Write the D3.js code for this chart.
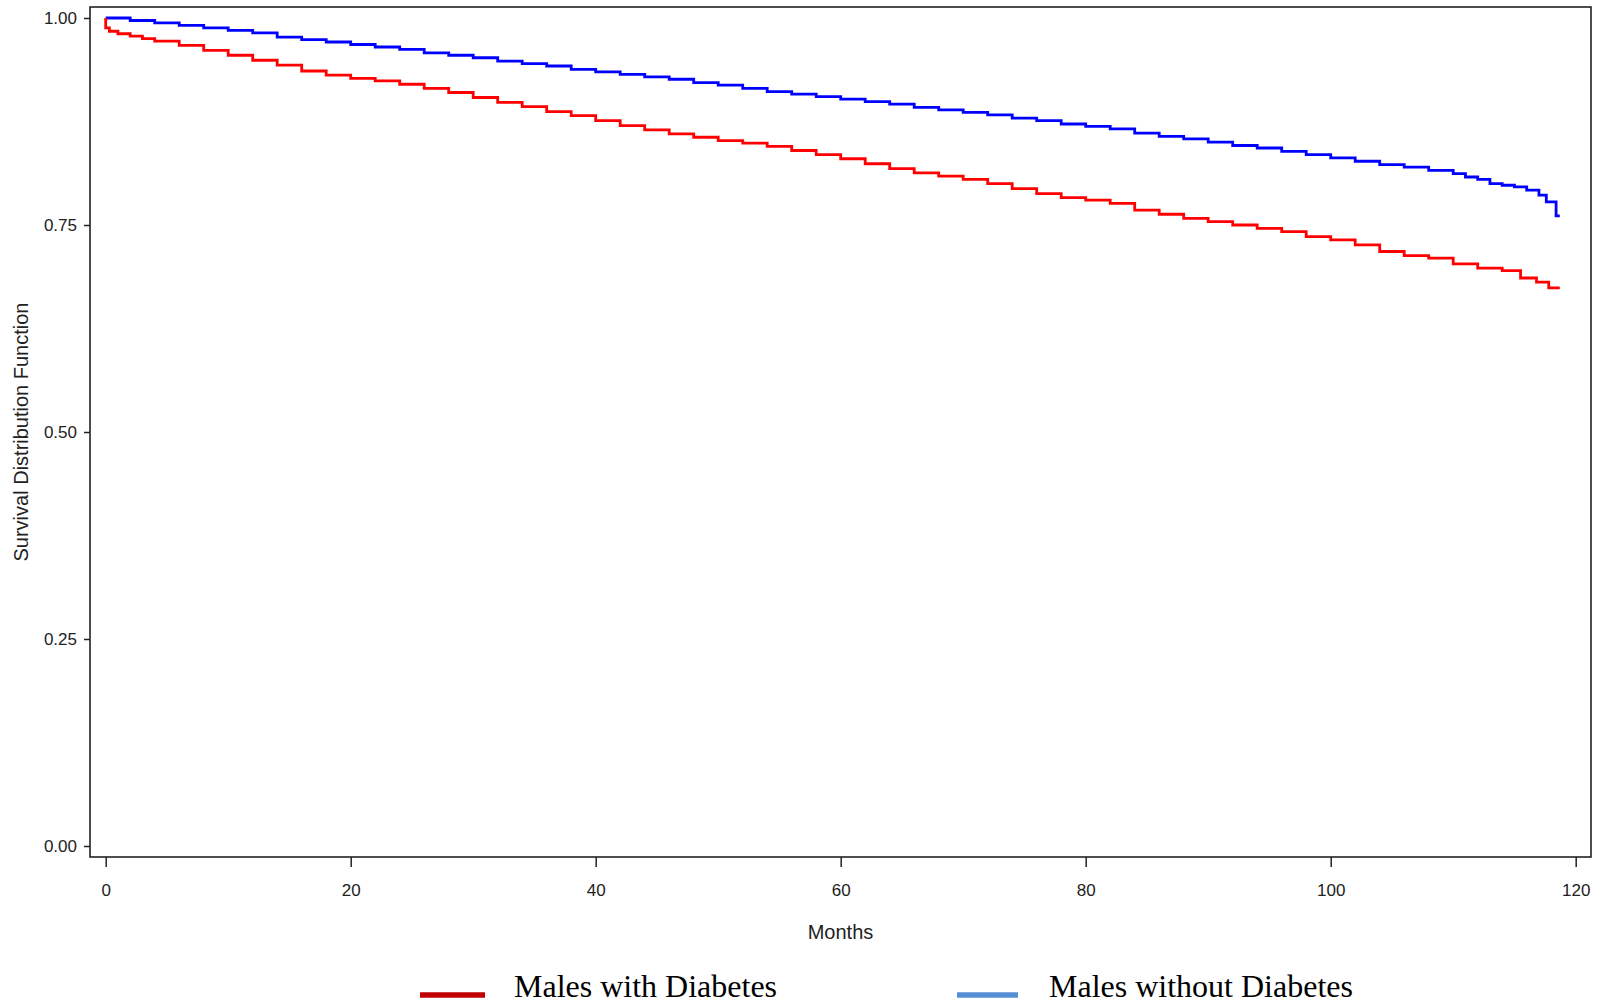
<!DOCTYPE html>
<html>
<head>
<meta charset="utf-8">
<script src="https://cdn.jsdelivr.net/npm/d3@7"></script>
<style>
  body { margin: 0; background: #fff; }
  svg { display: block; }
  .tick text { font-family: "Liberation Sans", Arial, sans-serif; font-size: 17px; fill: #222; }
  .tick line { stroke: #222; stroke-width: 1.5; }
  .axis-title { font-family: "Liberation Sans", Arial, sans-serif; font-size: 20px; fill: #222; }
  .legend-text { font-family: "Liberation Serif", "Times New Roman", serif; font-size: 32px; fill: #000; }
</style>
</head>
<body>
<svg id="chart" width="1599" height="1007"></svg>
<script>
// Kaplan-Meier estimates: [month, survival]
let withDiabetes = [
  [0, 1.000], [0, 0.988], [0.3, 0.984], [1, 0.981], [2, 0.978], [3, 0.975], [4, 0.972],
  [6, 0.967], [8, 0.961], [10, 0.955], [12, 0.949], [14, 0.943], [16, 0.936], [18, 0.931],
  [20, 0.927], [22, 0.924], [24, 0.920], [26, 0.915], [28, 0.910], [30, 0.904], [32, 0.898],
  [34, 0.893], [36, 0.887], [38, 0.882], [40, 0.876], [42, 0.870], [44, 0.865], [46, 0.860],
  [48, 0.856], [50, 0.852], [52, 0.849], [54, 0.845], [56, 0.840], [58, 0.835], [60, 0.830],
  [62, 0.824], [64, 0.818], [66, 0.813], [68, 0.809], [70, 0.805], [72, 0.800], [74, 0.794],
  [76, 0.788], [78, 0.783], [80, 0.780], [82, 0.776], [84, 0.768], [86, 0.763], [88, 0.758],
  [90, 0.754], [92, 0.750], [94, 0.746], [96, 0.742], [98, 0.736], [100, 0.732], [102, 0.726],
  [104, 0.718], [106, 0.713], [108, 0.710], [110, 0.703], [112, 0.698], [114, 0.695],
  [115.5, 0.686], [116.8, 0.681], [117.8, 0.674], [118.7, 0.674]
]

let withoutDiabetes = [
  [0, 1.000], [2, 0.997], [4, 0.994], [6, 0.991], [8, 0.988], [10, 0.985], [12, 0.982],
  [14, 0.977], [16, 0.974], [18, 0.971], [20, 0.968], [22, 0.965], [24, 0.962], [26, 0.958],
  [28, 0.955], [30, 0.952], [32, 0.948], [34, 0.945], [36, 0.942], [38, 0.938], [40, 0.935],
  [42, 0.932], [44, 0.929], [46, 0.926], [48, 0.922], [50, 0.919], [52, 0.915], [54, 0.911],
  [56, 0.908], [58, 0.905], [60, 0.902], [62, 0.899], [64, 0.896], [66, 0.892], [68, 0.889],
  [70, 0.886], [72, 0.883], [74, 0.879], [76, 0.876], [78, 0.872], [80, 0.869], [82, 0.866],
  [84, 0.861], [86, 0.857], [88, 0.854], [90, 0.850], [92, 0.846], [94, 0.843], [96, 0.839],
  [98, 0.835], [100, 0.831], [102, 0.827], [104, 0.823], [106, 0.820], [108, 0.816],
  [110, 0.812], [111, 0.808], [112, 0.805], [113, 0.800], [114, 0.798], [115, 0.796],
  [116, 0.792], [117, 0.786], [117.6, 0.778], [118.4, 0.761], [118.7, 0.761]
]

let xTicks = [0, 20, 40, 60, 80, 100, 120]
let yTicks = [0, 0.25, 0.5, 0.75, 1]

let legendItems = [
  {label: 'Males with Diabetes', color: '#c00000'},
  {label: 'Males without Diabetes', color: '#558ed5'}
]

let svg = d3.select('#chart')

// plot frame
let frame = {left: 90, top: 7, right: 1591, bottom: 857}

let x = d3.scaleLinear()
  .domain([0, 120])
  .range([105.7, 1575.7])

let y = d3.scaleLinear()
  .domain([0, 1])
  .range([846, 18])

svg.append('rect')
  .attr('width', 1599)
  .attr('height', 1007)
  .attr('fill', '#fff')

svg.append('g')
  .attr('transform', `translate(${frame.left},0)`)
  .call(d3.axisLeft(y).tickValues(yTicks).tickFormat(d3.format('.2f')).tickSize(6).tickPadding(7))
  .call(g => g.select('.domain').remove())
  .selectAll('text').attr('dy', '0.35em')

svg.append('g')
  .attr('transform', `translate(0,${frame.bottom})`)
  .call(d3.axisBottom(x).tickValues(xTicks).tickSize(10).tickPadding(17))
  .call(g => g.select('.domain').remove())

svg.append('rect')
  .attr('x', frame.left)
  .attr('y', frame.top)
  .attr('width', frame.right - frame.left)
  .attr('height', frame.bottom - frame.top)
  .attr('fill', 'none')
  .attr('stroke', '#222')
  .attr('stroke-width', 1.6)

let line = d3.line()
  .x(d => x(d[0]))
  .y(d => y(d[1]))
  .curve(d3.curveStepAfter)

svg.append('path')
  .datum(withoutDiabetes)
  .attr('d', line)
  .attr('fill', 'none')
  .attr('stroke', '#0000ff')
  .attr('stroke-width', 2.8)

svg.append('path')
  .datum(withDiabetes)
  .attr('d', line)
  .attr('fill', 'none')
  .attr('stroke', '#ff0000')
  .attr('stroke-width', 2.8)

// axis titles
svg.append('text')
  .classed('axis-title', true)
  .attr('x', (frame.left + frame.right) / 2)
  .attr('y', 939)
  .attr('text-anchor', 'middle')
  .text('Months')

svg.append('text')
  .classed('axis-title', true)
  .attr('transform', `translate(28,${(frame.top + frame.bottom) / 2}) rotate(-90)`)
  .attr('text-anchor', 'middle')
  .text('Survival Distribution Function')

// legend
let legend = svg.selectAll('.legend')
  .data(legendItems)
  .enter()
  .append('g')
  .classed('legend', true)
  .attr('transform', (d, i) => `translate(${[420, 957][i]},995)`)

legend.append('line')
  .attr('x1', 0)
  .attr('x2', (d, i) => [65, 61][i])
  .attr('stroke', d => d.color)
  .attr('stroke-width', 5.5)

legend.append('text')
  .classed('legend-text', true)
  .attr('x', (d, i) => [94, 92][i])
  .attr('y', 2)
  .text(d => d.label)
</script>
</body>
</html>
